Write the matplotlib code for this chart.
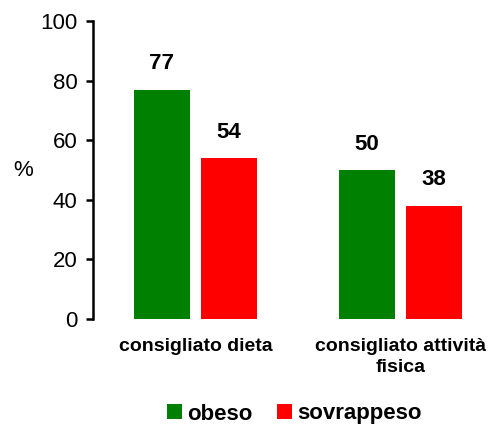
import matplotlib
matplotlib.use("Agg")
import matplotlib.pyplot as plt
import numpy as np

plt.rcParams['font.family'] = ['Liberation Sans', 'DejaVu Sans']

# data
categories = ["consigliato dieta", "consigliato attività\nfisica"]
series_names = ["obeso", "sovrappeso"]
obeso = [77, 50]
sovrappeso = [54, 38]
colors = ["#008000", "#FF0000"]

fig = plt.figure(figsize=(4.92, 4.25), dpi=100)
ax = fig.add_axes([93 / 492, 106 / 425, 1 - 93 / 492, 298 / 425])

x = np.arange(len(categories))
w = 56 / 205
off = 67 / 205 / 2

for vals, name, col, sgn in [(obeso, series_names[0], colors[0], -1),
                             (sovrappeso, series_names[1], colors[1], 1)]:
    bars = ax.bar(x + sgn * off, vals, width=w, color=col, label=name)
    for b, v in zip(bars, vals):
        ax.annotate(f"{v}", (b.get_x() + b.get_width() / 2, v),
                    xytext=(0, 11), textcoords="offset points",
                    ha="center", va="bottom", fontsize=16, fontweight="bold")

ax.set_ylim(0, 100)
ax.set_xlim(-0.5, (492 - 195.5) / 205)
ax.set_yticks(range(0, 101, 20))
ax.tick_params(axis="y", labelsize=16, length=5, width=1.8, pad=6)
ax.set_xticks(x)
ax.set_xticklabels(categories, fontsize=14, fontweight="bold", linespacing=1.3)
ax.tick_params(axis="x", length=0, pad=14)

for s in ["top", "right", "bottom"]:
    ax.spines[s].set_visible(False)
ax.spines["left"].set_linewidth(1.8)

ax.text((23 - 93) / 399, 0.5, "%", transform=ax.transAxes, fontsize=16,
        ha="center", va="center")

fig.legend(loc="center", bbox_to_anchor=(294.5 / 492, 11 / 425),
           ncol=2, frameon=False, prop={"size": 16, "weight": "bold"},
           handlelength=0.68, handleheight=0.68, handletextpad=0.23,
           columnspacing=1.1, borderpad=0)

fig.savefig("out.png", dpi=100)
